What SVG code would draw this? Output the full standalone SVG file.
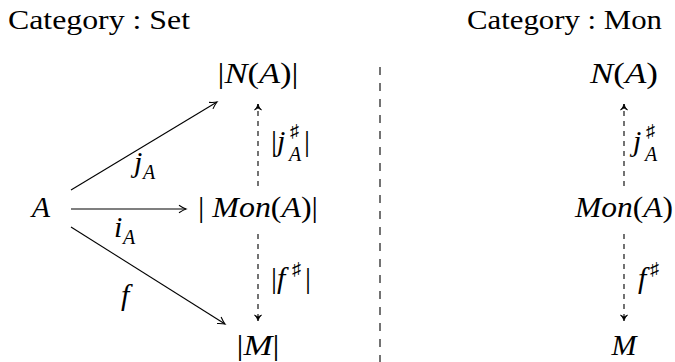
<svg xmlns="http://www.w3.org/2000/svg" width="675" height="362" viewBox="0 0 675 362" font-family="'Liberation Serif', 'Times New Roman', serif">
<style>
.t{font-size:28px}
.m{font-size:30px;font-style:italic}
.r{font-style:normal}
.sub{font-size:20px;font-style:italic}
.sup{font-size:18px;font-style:normal}
.c{text-anchor:middle}
.ln{stroke:#000;stroke-width:1.1;fill:none}
.d{stroke-dasharray:5 5}
.div{stroke:#000;stroke-width:1.1;stroke-dasharray:8 8;fill:none}
</style>
<defs>
<marker id="ah" viewBox="-8 -5 10 10" refX="0" refY="0" markerWidth="10" markerHeight="10" markerUnits="userSpaceOnUse" orient="auto">
<path d="M-7,-3.8 Q-2.5,-0.8 0,0 Q-2.5,0.8 -7,3.8" fill="none" stroke="#000" stroke-width="1.1" stroke-dasharray="none"/>
</marker>
<marker id="ahf" viewBox="-8 -5 10 10" refX="0" refY="0" markerWidth="10" markerHeight="10" markerUnits="userSpaceOnUse" orient="auto">
<path d="M-6,-3.5 Q-3,-0.5 0,0 Q-3,0.5 -6,3.5 L-4,0 Z" fill="#000" stroke="#000" stroke-width="0.8" stroke-dasharray="none"/>
</marker>
</defs>

<text id="title-set" class="t" x="8" y="29" textLength="182" lengthAdjust="spacingAndGlyphs">Category : Set</text>
<text id="title-mon" class="t" x="467" y="29" textLength="195" lengthAdjust="spacingAndGlyphs">Category : Mon</text>

<g id="nodes">
<g id="n-A"><text class="m c" x="41" y="217">A</text></g>
<g id="n-NA"><text class="m c" x="258" y="83" textLength="81" lengthAdjust="spacingAndGlyphs"><tspan class="r">|</tspan>N<tspan class="r">(</tspan>A<tspan class="r">)|</tspan></text></g>
<g id="n-MonA"><text class="m c" x="258" y="217" textLength="120" lengthAdjust="spacingAndGlyphs"><tspan class="r">| </tspan>Mon<tspan class="r">(</tspan>A<tspan class="r">)|</tspan></text></g>
<g id="n-M"><text class="m c" x="258" y="355" textLength="43" lengthAdjust="spacingAndGlyphs"><tspan class="r">|</tspan>M<tspan class="r">|</tspan></text></g>
<g id="n-NA2"><text class="m c" x="624" y="83" textLength="68" lengthAdjust="spacingAndGlyphs">N<tspan class="r">(</tspan>A<tspan class="r">)</tspan></text></g>
<g id="n-MonA2"><text class="m c" x="624" y="217" textLength="98" lengthAdjust="spacingAndGlyphs">Mon<tspan class="r">(</tspan>A<tspan class="r">)</tspan></text></g>
<g id="n-M2"><text class="m c" x="624" y="355">M</text></g>
</g>

<g id="connectors">
<line class="div" x1="380" y1="67" x2="380" y2="362"/>
<line class="ln" x1="71" y1="190" x2="217" y2="102" marker-end="url(#ah)"/>
<line class="ln" x1="71" y1="209" x2="186" y2="209" marker-end="url(#ah)"/>
<line class="ln" x1="71" y1="227" x2="225" y2="324" marker-end="url(#ah)"/>
<line class="ln d" x1="258" y1="186" x2="258" y2="104" marker-end="url(#ahf)"/>
<line class="ln d" x1="258" y1="234" x2="258" y2="321" marker-end="url(#ahf)"/>
<line class="ln d" x1="624" y1="186" x2="624" y2="104" marker-end="url(#ahf)"/>
<line class="ln d" x1="624" y1="234" x2="624" y2="321" marker-end="url(#ahf)"/>
</g>

<g id="labels">
<text class="m" x="134" y="172">j</text><text class="sub" x="143" y="179">A</text>
<text class="m" x="114" y="237">i</text><text class="sub" x="123" y="244">A</text>
<text class="m" x="121" y="305">f</text>
<text class="m" x="271" y="151"><tspan class="r">|</tspan>j</text><text class="sup" x="290" y="137">♯</text><text class="sub" x="289" y="161">A</text><text class="m r" x="304" y="151">|</text>
<text class="m" x="271" y="288"><tspan class="r">|</tspan>f</text><text class="sup" x="292" y="275">♯</text><text class="m r" x="305" y="288">|</text>
<text class="m" x="633" y="151">j</text><text class="sup" x="646" y="137">♯</text><text class="sub" x="645" y="161">A</text>
<text class="m" x="638" y="288">f</text><text class="sup" x="650" y="275">♯</text>
</g>
</svg>
